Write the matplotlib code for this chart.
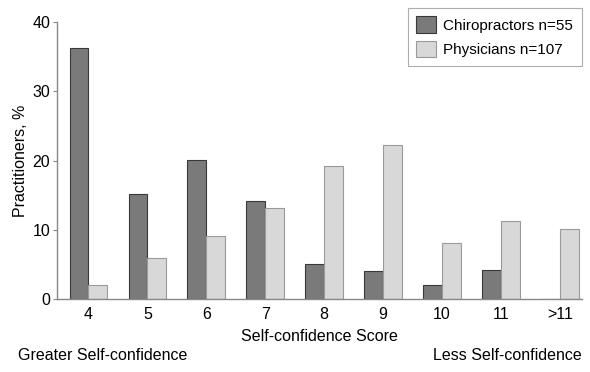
import matplotlib
matplotlib.use('Agg')
import matplotlib.pyplot as plt
import numpy as np

plt.rcParams['font.family'] = ['Liberation Sans', 'DejaVu Sans']

# data
scores = ['4', '5', '6', '7', '8', '9', '10', '11', '>11']
chiropractors = [36.2, 15.1, 20.1, 14.2, 5.1, 4.1, 2.1, 4.2, 0]
physicians = [2.0, 6.0, 9.1, 13.1, 19.2, 22.2, 8.1, 11.3, 10.1]

x = np.arange(len(scores))
w = 0.32

fig = plt.figure(figsize=(5.9, 3.72), dpi=100)
ax = fig.add_axes([0.097, 0.196, 0.889, 0.745])

ax.bar(x - w / 2, chiropractors, w, color='#7a7a7a', edgecolor='#3a3a3a',
       linewidth=0.8, label='Chiropractors n=55')
ax.bar(x + w / 2, physicians, w, color='#d8d8d8', edgecolor='#9a9a9a',
       linewidth=0.8, label='Physicians n=107')

ax.set_xlim(-0.53, 8.37)
ax.set_ylim(0, 40)
ax.set_yticks([0, 10, 20, 30, 40])
ax.set_xticks(x)
ax.set_xticklabels(scores)
ax.tick_params(axis='x', length=0, pad=6, labelsize=11.5)
ax.tick_params(axis='y', length=3, color='#888888', labelsize=11.5, pad=2)
for s in ['top', 'right']:
    ax.spines[s].set_visible(False)
for s in ['left', 'bottom']:
    ax.spines[s].set_color('#888888')
    ax.spines[s].set_linewidth(1.0)

ax.set_xlabel('Self-confidence Score', fontsize=11.5, labelpad=5)
ax.set_ylabel('Practitioners, %', fontsize=11.5, labelpad=3)

fig.text(0.03, 0.033, 'Greater Self-confidence', fontsize=11.5)
fig.text(0.986, 0.033, 'Less Self-confidence', fontsize=11.5, ha='right')

leg = ax.legend(loc='upper right', bbox_to_anchor=(1.0, 1.05), fontsize=11,
                frameon=True, fancybox=False, edgecolor='#999999',
                handlelength=1.3, handleheight=1.3, borderpad=0.55,
                labelspacing=0.5, handletextpad=0.5, borderaxespad=0)
leg.get_frame().set_linewidth(0.8)

fig.savefig('out.png', dpi=100)
